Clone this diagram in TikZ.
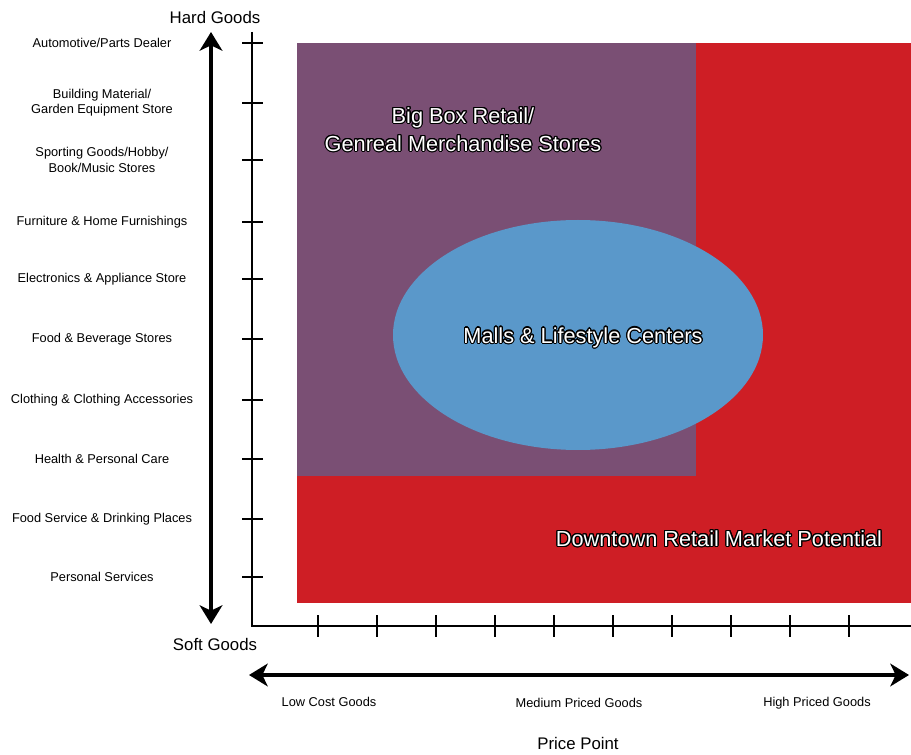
\documentclass[tikz,border=0pt]{standalone}
\usepackage{fontspec}
\setmainfont{Liberation Sans}
\usepackage{contour}
\usetikzlibrary{arrows.meta}
\contourlength{0.85pt}
\contournumber{16}

\definecolor{bigboxpurple}{RGB}{122,79,116}
\definecolor{downtownred}{RGB}{206,30,37}
\definecolor{mallblue}{RGB}{90,152,202}

\begin{document}
\begin{tikzpicture}[x=0.75pt,y=-0.75pt,
    catlabel/.style={font=\fontsize{9.6}{11.5}\selectfont, align=center},
    axistitle/.style={font=\fontsize{12.6}{15}\selectfont},
    zonetext/.style={font=\fontsize{16.3}{21}\selectfont, text=white, align=center},
    axisline/.style={line width=2.2pt},
    tickmark/.style={line width=2pt},
    bigarrow/.style={line width=2.6pt,
      {Stealth[length=14pt,width=17pt,inset=4pt]}-{Stealth[length=14pt,width=17pt,inset=4pt]}}]
  \useasboundingbox (0,0) rectangle (911,755);

  % market areas
  \fill[downtownred] (297,43) rectangle (911,603);
  \fill[bigboxpurple] (297,43) rectangle (696,476);
  \fill[mallblue] (578,335) ellipse [x radius=185, y radius=115];

  \node[zonetext] (bigbox) at (463,130) {\contour{black}{Big Box Retail/}\\\contour{black}{Genreal Merchandise Stores}};
  \node[zonetext] (malls) at (583,338) {\contour{black}{Malls \& Lifestyle Centers}};
  \node[zonetext] (downtown) at (719,539) {\contour{black}{Downtown Retail Market Potential}};

  % axes
  \coordinate (ytop) at (252,32);
  \coordinate (origin) at (252,626);
  \coordinate (xend) at (911,626);
  \draw[axisline] (ytop) -- (origin) -- (xend);

  \foreach \y/\txt [count=\i] in {43/{Automotive/Parts Dealer},
      103/{Building Material/\\Garden Equipment Store},
      160/{Sporting Goods/Hobby/\\Book/Music Stores},
      222/{Furniture \& Home Furnishings},
      279/{Electronics \& Appliance Store},
      339/{Food \& Beverage Stores},
      400/{Clothing \& Clothing Accessories},
      459/{Health \& Personal Care},
      519/{Food Service \& Drinking Places},
      577/{Personal Services}}{
    \draw[tickmark] (242,\y) -- (263,\y);
    \node[catlabel] (cat\i) at (102,\y) {\txt};
  }
  \foreach \x in {318,377,...,849}
    \draw[tickmark] (\x,615) -- (\x,637);

  % goods type arrow
  \coordinate (hardtip) at (211,32);
  \coordinate (softtip) at (211,624);
  \draw[bigarrow] (softtip) -- (hardtip);
  \node[axistitle] (hard) at (215,18) {Hard Goods};
  \node[axistitle] (soft) at (215,644) {Soft Goods};

  % price arrow
  \coordinate (lowtip) at (249,675);
  \coordinate (hightip) at (909,675);
  \draw[bigarrow] (lowtip) -- (hightip);
  \node[catlabel] (low) at (329,702) {Low Cost Goods};
  \node[catlabel] (medium) at (579,703) {Medium Priced Goods};
  \node[catlabel] (high) at (817,703) {High Priced Goods};
  \node[axistitle] (price) at (578,743) {Price Point};
\end{tikzpicture}
\end{document}
